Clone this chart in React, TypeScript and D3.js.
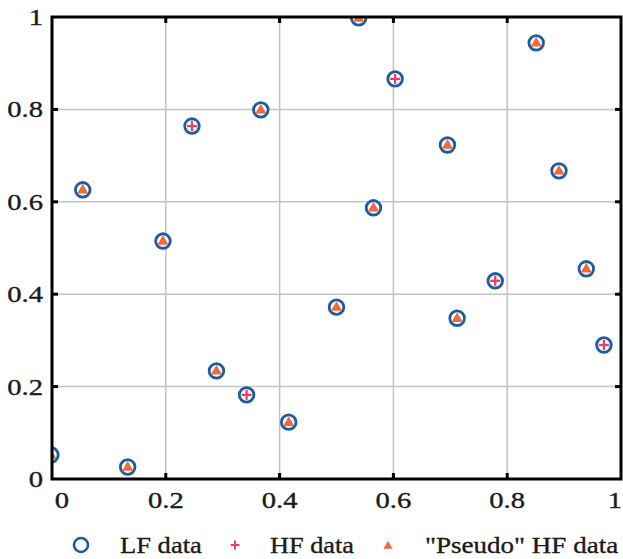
import React from "react";
import * as d3 from "d3";

const lfX = [-0.002, 0.133, 0.054, 0.195, 0.246, 0.367, 0.289, 0.342, 0.416, 0.539, 0.603, 0.565, 0.5, 0.695, 0.779, 0.712, 0.851, 0.891, 0.939, 0.97];
const lfY = [0.052, 0.026, 0.626, 0.515, 0.764, 0.799, 0.234, 0.182, 0.123, 0.998, 0.866, 0.587, 0.372, 0.723, 0.429, 0.348, 0.944, 0.667, 0.455, 0.29];
const hfX = [0.246, 0.342, 0.603, 0.779, 0.97];
const hfY = [0.764, 0.182, 0.866, 0.429, 0.29];
const pseudoX = [-0.002, 0.133, 0.054, 0.195, 0.367, 0.289, 0.416, 0.539, 0.565, 0.5, 0.695, 0.712, 0.851, 0.891, 0.939];
const pseudoY = [0.052, 0.026, 0.626, 0.515, 0.799, 0.234, 0.123, 0.998, 0.587, 0.372, 0.723, 0.348, 0.944, 0.667, 0.455];
const xTicks = [0, 0.2, 0.4, 0.6, 0.8, 1];
const yTicks = [0, 0.2, 0.4, 0.6, 0.8, 1];
const xTickLabels = ["0", "0.2", "0.4", "0.6", "0.8", "1"];
const yTickLabels = ["0", "0.2", "0.4", "0.6", "0.8", "1"];
const legendLabels = ["LF data", "HF data", "\"Pseudo\" HF data"];

const BLUE = "#1f5aa6";
const PINK = "#ef3d6b";
const ORANGE = "#f2693a";
const FONT = "'Liberation Serif', 'Times New Roman', serif";

export default function App() {
  const W = 623, H = 559;
  const L = 52, R = 621, T = 17, B = 479;
  const x = d3.scaleLinear().domain([0, 1]).range([L, R]);
  const y = d3.scaleLinear().domain([0, 1]).range([B, T]);
  const tri = d3.symbol().type(d3.symbolTriangle).size(54)();
  const fs = 23.5;

  const label = (tx: number, ty: number, s: string, anchor: string, key: string, sx = 1.22) => (
    <text key={key} transform={`translate(${tx},${ty}) scale(${sx},1)`} textAnchor={anchor}
      fontFamily={FONT} fontSize={fs} fill="#1a1a1a" stroke="#1a1a1a" strokeWidth={0.35}>{s}</text>
  );

  const xLabelOffset = (i: number) => (i === 0 ? 10 : i === xTicks.length - 1 ? -6 : 0);

  return (
    <svg width={W} height={H} style={{ position: "absolute", left: 0, top: 0, background: "#fff" }}>
      <defs>
        <clipPath id="plot"><rect x={L} y={T} width={R - L} height={B - T} /></clipPath>
      </defs>
      <rect x={0} y={0} width={W} height={H} fill="#fff" />
      {/* grid */}
      {xTicks.slice(1, -1).map((t) => (
        <line key={"gx" + t} x1={x(t)} x2={x(t)} y1={T} y2={B} stroke="#c4c4c4" strokeWidth={1.5} />
      ))}
      {yTicks.slice(1, -1).map((t) => (
        <line key={"gy" + t} x1={L} x2={R} y1={y(t)} y2={y(t)} stroke="#c4c4c4" strokeWidth={1.5} />
      ))}
      {/* markers */}
      <g clipPath="url(#plot)">
        {lfX.map((v, i) => (
          <circle key={"lf" + i} cx={x(v)} cy={y(lfY[i])} r={7.3} fill="#fff" stroke={BLUE} strokeWidth={2.8} />
        ))}
        {hfX.map((v, i) => (
          <g key={"hf" + i} transform={`translate(${x(v)},${y(hfY[i])})`}>
            <line x1={-5} x2={5} y1={0} y2={0} stroke={PINK} strokeWidth={2.3} />
            <line x1={0} x2={0} y1={-5} y2={5} stroke={PINK} strokeWidth={2.3} />
          </g>
        ))}
        {pseudoX.map((v, i) => (
          <path key={"ps" + i} d={tri} transform={`translate(${x(v)},${y(pseudoY[i]) + 0.5})`} fill={ORANGE} />
        ))}
      </g>
      {/* ticks */}
      {xTicks.slice(1, -1).map((t) => (
        <g key={"tx" + t}>
          <line x1={x(t)} x2={x(t)} y1={B} y2={B - 6} stroke="#000" strokeWidth={3} />
          <line x1={x(t)} x2={x(t)} y1={T} y2={T + 6} stroke="#000" strokeWidth={3} />
        </g>
      ))}
      {yTicks.slice(1, -1).map((t) => (
        <g key={"ty" + t}>
          <line x1={L} x2={L + 6} y1={y(t)} y2={y(t)} stroke="#000" strokeWidth={3} />
          <line x1={R} x2={R - 6} y1={y(t)} y2={y(t)} stroke="#000" strokeWidth={3} />
        </g>
      ))}
      {/* frame */}
      <rect x={L} y={T} width={R - L} height={B - T} fill="none" stroke="#000" strokeWidth={3} />
      {/* tick labels */}
      {xTicks.map((t, i) => label(x(t) + xLabelOffset(i), 508, xTickLabels[i], "middle", "xl" + i))}
      {yTicks.map((t, i) => label(43, y(t) + 8, yTickLabels[i], "end", "yl" + i))}
      {/* legend */}
      <circle cx={81} cy={545} r={7} fill="#fff" stroke={BLUE} strokeWidth={2.6} />
      {label(120, 553, legendLabels[0], "start", "lg0", 1.13)}
      <g transform="translate(235,545)">
        <line x1={-4.5} x2={4.5} y1={0} y2={0} stroke={PINK} strokeWidth={2} />
        <line x1={0} x2={0} y1={-4.5} y2={4.5} stroke={PINK} strokeWidth={2} />
      </g>
      {label(270, 553, legendLabels[1], "start", "lg1", 1.12)}
      <path d={d3.symbol().type(d3.symbolTriangle).size(36)()} transform="translate(388,546)" fill={ORANGE} />
      {label(425, 553, legendLabels[2], "start", "lg2", 1.15)}
    </svg>
  );
}
